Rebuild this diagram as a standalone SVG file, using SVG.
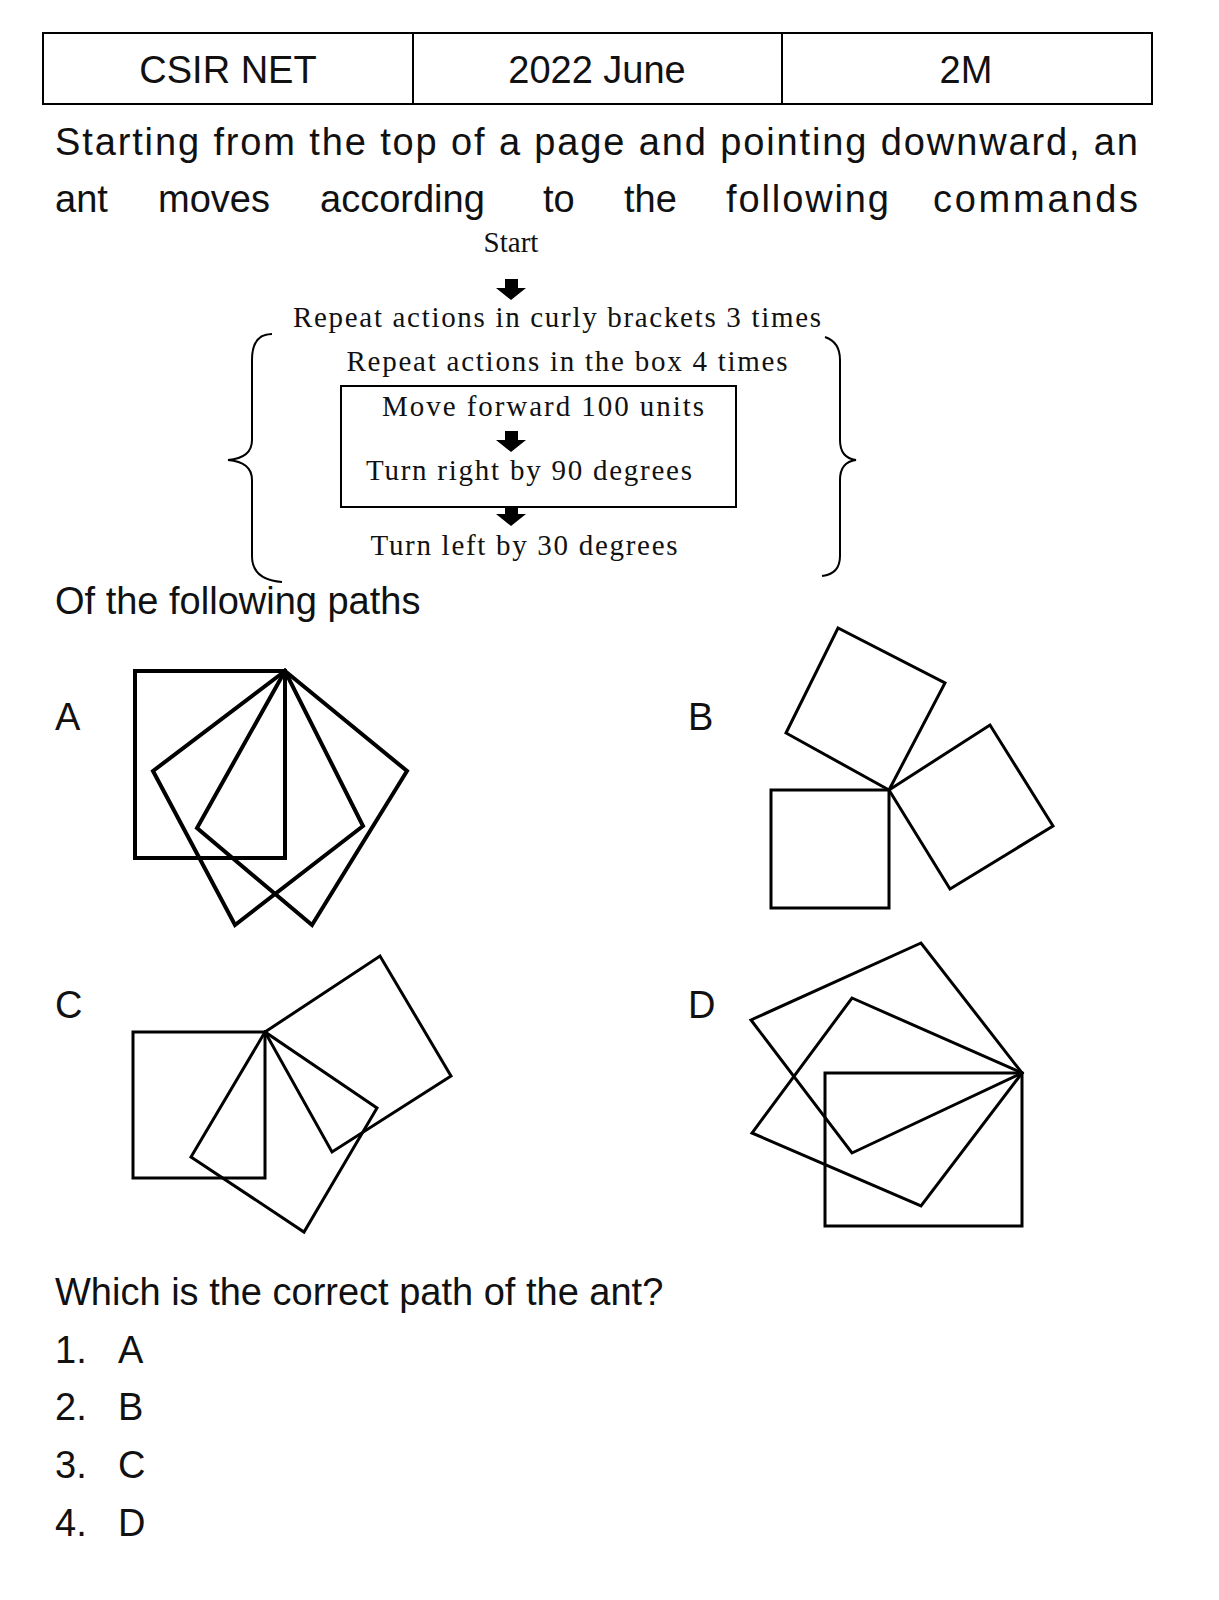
<svg xmlns="http://www.w3.org/2000/svg" width="1219" height="1600" viewBox="0 0 1219 1600">
<style>
.s{font-family:"Liberation Sans",Arial,sans-serif;font-size:38px;fill:#111}
.t{font-family:"Liberation Serif","Times New Roman",serif;font-size:29px;fill:#111}
.f{fill:none;stroke:#000;stroke-width:3}
.fb{fill:none;stroke:#000;stroke-width:4}
</style>
<rect width="1219" height="1600" fill="#fff"/>
<g id="table">
<rect x="43" y="33" width="1109" height="71" fill="none" stroke="#000" stroke-width="2"/>
<line x1="413" y1="33" x2="413" y2="104" stroke="#000" stroke-width="2"/>
<line x1="782" y1="33" x2="782" y2="104" stroke="#000" stroke-width="2"/>
<text class="s" x="228" y="83" text-anchor="middle" font-size="40">CSIR NET</text>
<text class="s" x="597" y="83" text-anchor="middle" font-size="40">2022 June</text>
<text class="s" x="966" y="83" text-anchor="middle" font-size="40">2M</text>
</g>
<text class="s" x="55" y="155" textLength="1083">Starting from the top of a page and pointing downward, an</text>
<text class="s" x="55" y="212">ant</text><text class="s" x="158" y="212">moves</text><text class="s" x="320" y="212">according</text><text class="s" x="543" y="212">to</text><text class="s" x="624" y="212">the</text><text class="s" x="726" y="212" textLength="163">following</text><text class="s" x="933" y="212" textLength="205">commands</text>
<g id="flow">
<text class="t" x="511" y="252" text-anchor="middle">Start</text>
<polygon points="505,279 518,279 518,288 526,288 511,300 496,288 505,288" fill="#000"/>
<text class="t" x="557" y="327" text-anchor="middle" textLength="528">Repeat actions in curly brackets 3 times</text>
<text class="t" x="567" y="371" text-anchor="middle" textLength="441">Repeat actions in the box 4 times</text>
<rect x="341" y="386" width="395" height="121" fill="none" stroke="#000" stroke-width="2"/>
<text class="t" x="543" y="416" text-anchor="middle" textLength="322">Move forward 100 units</text>
<polygon points="505,431 518,431 518,440 526,440 511,452 496,440 505,440" fill="#000"/>
<text class="t" x="529" y="480" text-anchor="middle" textLength="326">Turn right by 90 degrees</text>
<polygon points="505,507 518,507 518,514 526,514 511,526 496,514 505,514" fill="#000"/>
<text class="t" x="524" y="555" text-anchor="middle" textLength="307">Turn left by 30 degrees</text>
<path d="M272,334 Q252,334 252,360 L252,440 Q252,458 228,460 Q252,462 252,480 L252,556 Q252,580 282,582" fill="none" stroke="#000" stroke-width="2"/>
<path d="M825,337 Q840,342 840,360 L840,440 Q840,458 856,460 Q840,462 840,480 L840,556 Q840,574 822,576" fill="none" stroke="#000" stroke-width="2"/>
</g>
<text class="s" x="55" y="614">Of the following paths</text>
<g id="A">
<text class="s" x="55" y="730">A</text>
<rect x="135" y="671" width="150" height="187" class="fb"/>
<polygon points="285,671 153,771 235,925 363,826" class="fb"/>
<polygon points="285,671 407,771 312,925 197,828" class="fb"/>
</g>
<g id="B">
<text class="s" x="688" y="730">B</text>
<rect x="771" y="790" width="118" height="118" class="f"/>
<polygon points="889,790 945,683 838,628 786,733" class="f"/>
<polygon points="889,790 990,725 1053,826 950,889" class="f"/>
</g>
<g id="C">
<text class="s" x="55" y="1018">C</text>
<rect x="133" y="1032" width="132" height="146" class="f"/>
<polygon points="265,1032 191,1157 304,1232 377,1108" class="f"/>
<polygon points="265,1032 380,956 451,1076 332,1152" class="f"/>
</g>
<g id="D">
<text class="s" x="688" y="1018">D</text>
<rect x="825" y="1073" width="197" height="153" class="f"/>
<polygon points="1022,1073 921,943 751,1020 852,1153" class="f"/>
<polygon points="1022,1073 852,998 752,1133 921,1206" class="f"/>
</g>
<text class="s" x="55" y="1305">Which is the correct path of the ant?</text>
<text class="s" x="55" y="1363">1.</text><text class="s" x="118" y="1363">A</text>
<text class="s" x="55" y="1420">2.</text><text class="s" x="118" y="1420">B</text>
<text class="s" x="55" y="1478">3.</text><text class="s" x="118" y="1478">C</text>
<text class="s" x="55" y="1536">4.</text><text class="s" x="118" y="1536">D</text>
</svg>
